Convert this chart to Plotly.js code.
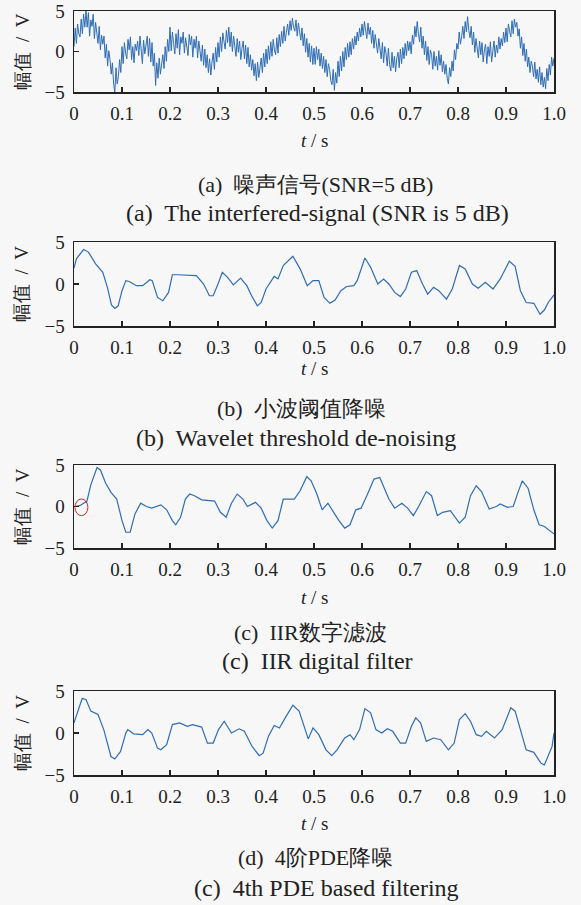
<!DOCTYPE html>
<html><head><meta charset="utf-8">
<script src="https://cdn.plot.ly/plotly-3.0.1.min.js"></script>
<style>body{margin:0;background:#f7f7f7}#chart{width:581px;height:905px}</style>
</head><body><div id="chart"></div>
<script>
// ---- data ----
const noisyDt = 0.0025;
const noisyV = [
0.6,2.9,1.0,3.4,2.2,1.8,4.0,2.2,4.6,3.0,5.0,3.0,4.8,1.9,3.9,3.1,4.6,1.6,3.6,2.4,1.0,3.1,0.2,2.0,0.9,1.9,-0.8,0.9,-1.8,0.1,-1.0,-2.8,-1.4,-3.9,-5.2,-2.0,-4.0,-3.1,-1.0,-2.6,
0.6,-1.5,1.1,-0.2,-0.9,1.5,0.2,1.8,-1.0,0.6,-1.4,0.9,0.1,1.3,-0.5,1.9,0.4,-1.5,1.4,-0.3,0.8,1.9,-0.6,1.6,-1.3,1.1,-1.8,-0.2,-4.2,-1.4,-3.3,-0.8,-2.8,-1.6,-0.4,-2.1,0.6,-1.2,1.5,0.0,
3.0,0.1,2.4,1.0,-0.3,2.2,0.4,2.7,-0.4,1.8,1.0,2.4,-0.2,1.7,0.3,-0.5,2.1,0.8,1.9,-0.7,1.5,0.4,1.9,-0.8,1.3,0.2,-1.2,0.8,-1.7,0.3,-2.0,-0.4,-2.6,-0.9,-2.9,-1.3,-0.2,-2.2,0.5,-1.3,
1.1,-0.7,1.8,0.0,2.3,1.2,0.3,2.6,1.1,3.0,0.6,2.4,0.0,1.9,0.5,-0.6,1.6,-0.1,1.3,-1.0,0.4,1.3,-0.9,0.8,-1.5,0.5,-1.9,-0.4,-2.3,-1.0,-3.0,-1.5,-3.6,-1.3,-3.2,-2.2,-0.8,-2.6,-0.2,-1.9,
0.3,-1.5,0.7,-1.0,1.2,-0.6,1.5,0.2,-0.4,1.7,-0.2,2.1,0.6,2.5,1.0,3.1,1.3,2.4,3.4,2.0,3.8,2.6,4.1,3.0,2.5,3.9,1.9,3.5,2.3,1.4,2.9,0.7,2.2,-0.1,1.6,-0.7,1.0,-1.3,0.7,-1.6,
0.4,-1.6,0.6,-1.0,0.3,-1.8,-0.2,-2.1,-0.6,-2.6,-1.0,-3.1,-1.5,-2.2,-3.6,-4.1,-2.2,-4.8,-2.6,-3.9,-1.2,-3.1,-0.6,-2.4,0.0,-1.9,0.5,-1.0,1.0,-0.7,1.2,-0.4,1.6,0.3,1.9,0.8,2.4,1.3,2.9,1.8,
3.4,2.0,3.7,2.3,1.6,3.5,2.1,3.0,1.0,2.6,0.4,2.1,0.8,-0.2,1.6,0.1,-0.9,1.1,-1.4,0.6,-0.2,-1.8,0.4,-1.6,-2.4,-0.1,-2.0,-0.6,-2.5,-0.8,-0.1,-2.0,0.3,-1.5,0.5,-0.9,1.0,-0.5,1.3,0.1,
1.2,-0.3,2.0,0.9,3.1,1.8,3.7,2.2,1.2,3.0,0.4,1.9,-0.4,1.3,-1.1,0.6,-1.6,0.2,-0.4,-2.2,0.0,-1.8,-0.6,-2.3,0.1,-1.7,-0.4,-2.5,-1.2,-2.8,-1.6,-3.3,-4.0,-2.0,-3.1,-1.2,-2.4,0.2,-1.0,1.0,
0.3,2.4,0.9,1.8,3.1,1.6,3.7,2.4,4.3,2.6,1.7,3.1,0.8,2.4,-0.1,1.6,0.4,-0.8,1.3,-0.4,1.1,-1.3,0.2,0.9,-1.5,0.6,-0.6,1.2,-1.3,0.4,1.3,-0.7,0.8,-0.2,1.8,0.3,1.6,0.7,2.4,1.1,
2.9,1.2,3.4,2.5,1.8,3.8,2.2,4.0,3.0,3.6,1.9,2.8,0.4,1.8,-0.5,1.0,-1.2,0.3,-1.9,-0.7,-2.6,-1.2,-1.8,-3.1,-1.3,-3.4,-2.2,-3.8,-1.9,-4.1,-2.6,-4.4,-3.2,-4.6,-2.1,-3.6,-1.6,-2.9,-0.7,-1.8,-0.8
];
const waveletT = [0,0.005,0.02,0.03,0.045,0.06,0.07,0.078,0.085,0.092,0.1,0.108,0.115,0.13,0.143,0.158,0.163,0.174,0.185,0.197,0.205,0.216,0.255,0.27,0.282,0.29,0.3,0.309,0.32,0.332,0.347,0.36,0.37,0.382,0.39,0.4,0.417,0.425,0.436,0.456,0.471,0.486,0.498,0.51,0.521,0.533,0.544,0.556,0.568,0.583,0.59,0.606,0.618,0.633,0.645,0.656,0.668,0.68,0.691,0.703,0.714,0.726,0.737,0.749,0.76,0.776,0.788,0.803,0.815,0.83,0.842,0.857,0.873,0.888,0.907,0.919,0.93,0.942,0.958,0.971,0.98,0.988,1.0];
const waveletV = [1.9,3.0,4.1,3.8,2.4,1.4,-0.5,-2.5,-2.9,-2.6,-0.8,0.4,0.3,-0.2,-0.2,0.5,0.4,-1.6,-2.0,-1.0,1.1,1.1,1.0,0.0,-1.4,-1.4,0.0,1.4,0.8,-0.1,0.7,-0.2,-1.4,-2.6,-2.2,-0.6,0.9,0.6,2.2,3.3,1.8,-0.2,0.4,0.4,-1.6,-2.3,-1.9,-0.8,-0.3,-0.2,0.4,3.1,2.0,0.0,0.6,0.0,-1.0,-1.5,-0.6,1.4,1.6,0.0,-1.2,-0.4,-0.8,-1.8,-0.6,2.2,1.8,0.0,-0.5,0.2,-0.6,0.6,2.7,2.1,-0.8,-2.2,-2.3,-3.6,-3.1,-2.2,-1.3];
const iirT = [0,0.012,0.02,0.027,0.035,0.048,0.055,0.066,0.077,0.089,0.1,0.108,0.117,0.127,0.139,0.151,0.162,0.181,0.193,0.205,0.212,0.222,0.232,0.241,0.251,0.266,0.293,0.305,0.317,0.328,0.34,0.352,0.361,0.378,0.39,0.402,0.413,0.425,0.436,0.448,0.459,0.471,0.485,0.494,0.506,0.517,0.529,0.541,0.552,0.564,0.575,0.587,0.598,0.61,0.625,0.637,0.645,0.656,0.668,0.683,0.695,0.707,0.718,0.734,0.745,0.757,0.768,0.784,0.803,0.815,0.826,0.838,0.849,0.865,0.88,0.888,0.903,0.915,0.925,0.934,0.946,0.958,0.969,0.98,1.0];
const iirV = [0.0,0.1,0.4,0.65,2.6,4.7,4.4,2.8,1.7,0.9,-1.7,-3.1,-3.1,-0.9,0.4,0.0,-0.2,0.2,-0.4,-1.7,-2.2,-1.3,0.9,1.5,1.3,0.8,0.65,-0.7,-1.3,0.4,1.5,0.9,0.0,0.5,-0.2,-1.7,-2.6,-1.7,0.9,0.9,0.9,1.9,3.6,3.1,1.5,-0.4,0.4,-0.7,-1.7,-2.6,-2.2,-0.4,-0.2,1.3,3.3,3.5,2.4,0.9,-0.2,0.4,-0.2,-1.1,0.0,1.8,1.3,-1.1,-0.7,-0.5,-2.0,-1.3,1.3,2.5,1.8,-0.3,0.0,0.3,-0.1,0.0,1.7,3.1,2.2,-0.4,-2.2,-2.4,-3.3];
const pdeT = [0,0.008,0.017,0.025,0.035,0.05,0.062,0.077,0.085,0.097,0.108,0.112,0.124,0.143,0.154,0.162,0.174,0.181,0.193,0.205,0.22,0.236,0.247,0.266,0.278,0.29,0.301,0.313,0.328,0.344,0.355,0.371,0.386,0.394,0.405,0.417,0.428,0.44,0.456,0.469,0.48,0.488,0.498,0.51,0.525,0.537,0.548,0.564,0.575,0.583,0.595,0.606,0.618,0.629,0.641,0.653,0.664,0.68,0.691,0.703,0.712,0.722,0.734,0.749,0.764,0.78,0.792,0.803,0.815,0.826,0.838,0.849,0.859,0.876,0.892,0.91,0.919,0.93,0.942,0.958,0.973,0.98,0.988,0.996,1.0];
const pdeV = [1.2,2.6,4.1,4.0,2.6,2.2,0.4,-2.8,-3.1,-2.2,0.0,0.4,-0.1,-0.2,0.4,0.0,-1.8,-2.0,-1.4,1.0,1.2,0.8,1.0,0.7,-1.2,-1.2,0.4,1.4,0.0,0.5,0.2,-1.6,-2.7,-2.4,-0.4,0.9,0.6,1.8,3.3,2.6,0.8,-0.7,0.6,-0.2,-2.0,-2.7,-2.0,-0.6,-0.2,-0.8,0.4,2.9,2.4,0.4,0.0,0.5,0.2,-1.2,-1.2,0.8,1.8,1.2,-1.0,-0.6,-0.8,-2.0,-1.2,1.6,2.3,1.4,-0.2,-0.4,0.2,-0.6,0.4,3.0,2.6,0.4,-2.0,-2.3,-3.6,-3.8,-2.8,-1.6,0.0];
const xTickVals = [0,0.1,0.2,0.3,0.4,0.5,0.6,0.7,0.8,0.9,1.0];
const xTickText = ['0','0.1','0.2','0.3','0.4','0.5','0.6','0.7','0.8','0.9','1.0'];
const yTickVals = [-5,0,5];
const yTickText = ['\u22125','0','5'];
const yTitle = '幅值\u00a0 /\u00a0 V';
const xTitle = '<i>t</i> / s';
const captionsCN = ['(a)  噪声信号(SNR=5 dB)','(b)  小波阈值降噪','(c)  IIR数字滤波','(d)  4阶PDE降噪'];
const captionsEN = ['(a)  The interfered-signal (SNR is 5 dB)','(b)  Wavelet threshold de-noising','(c)  IIR digital filter','(c)  4th PDE based filtering'];

// ---- layout geometry (pixels) ----
const W = 581, H = 905;
const left = 74, right = 554;
const panels = [[11,92],[242,326],[465,548],[691,775]];
const xTitleY = [140,368,597,823];
const capY1 = [184,408,632,857];
const capY2 = [213,438,661,888];
const capX1 = [315,301,310,315];
const capX2 = [317,296,317,326];
const FONT = 'Liberation Serif';
const lineColor = '#2f6db5';

const traces = [
  {x0:0, dx:noisyDt, y:noisyV, xaxis:'x', yaxis:'y'},
  {x:waveletT, y:waveletV, xaxis:'x2', yaxis:'y2'},
  {x:iirT, y:iirV, xaxis:'x3', yaxis:'y3'},
  {x:pdeT, y:pdeV, xaxis:'x4', yaxis:'y4'}
].map((t,i)=>Object.assign(t,{type:'scatter',mode:'lines',line:{color:lineColor,width:i===0?1.0:1.2},hoverinfo:'skip',showlegend:false}));

const layout = {
  width:W, height:H, margin:{l:0,r:0,t:0,b:0},
  paper_bgcolor:'#f7f7f7', plot_bgcolor:'#f7f7f7',
  font:{family:FONT, size:18, color:'#222'},
  showlegend:false, annotations:[], shapes:[]
};
panels.forEach((p,i)=>{
  const sx = i===0?'':String(i+1);
  layout['xaxis'+sx] = {
    domain:[left/W, right/W], range:[0,1], anchor:'y'+sx,
    tickvals:xTickVals, ticktext:xTickText, ticks:'inside', ticklen:5, tickwidth:1.2, tickcolor:'#222',
    showline:true, linecolor:'#222', linewidth:1.5, mirror:true, showgrid:false, zeroline:false,
    tickfont:{family:FONT,size:19,color:'#222'}, ticklabelstandoff:4, fixedrange:true, automargin:false
  };
  layout['yaxis'+sx] = {
    domain:[1-p[1]/H, 1-p[0]/H], range:[-5,5], anchor:'x'+sx,
    tickvals:yTickVals, ticktext:yTickText, ticks:'inside', ticklen:5, tickwidth:1.2, tickcolor:'#222',
    showline:true, linecolor:'#222', linewidth:1.5, mirror:true, showgrid:false, zeroline:false,
    tickfont:{family:FONT,size:19,color:'#222'}, ticklabelstandoff:4, fixedrange:true, automargin:false
  };
  layout.annotations.push(
    {xref:'paper',yref:'paper',x:22/W,y:1-((p[0]+p[1])/2)/H,text:yTitle,textangle:-90,showarrow:false,font:{family:FONT,size:19,color:'#222'},xanchor:'center',yanchor:'middle'},
    {xref:'paper',yref:'paper',x:(left+right)/2/W,y:1-xTitleY[i]/H,text:xTitle,showarrow:false,font:{family:FONT,size:19,color:'#222'},xanchor:'center',yanchor:'middle'},
    {xref:'paper',yref:'paper',x:capX1[i]/W,y:1-capY1[i]/H,text:captionsCN[i],showarrow:false,font:{family:FONT,size:22,color:'#222'},xanchor:'center',yanchor:'middle'},
    {xref:'paper',yref:'paper',x:capX2[i]/W,y:1-capY2[i]/H,text:captionsEN[i],showarrow:false,font:{family:FONT,size:24,color:'#222'},xanchor:'center',yanchor:'middle'}
  );
});
layout.shapes.push({type:'circle',xref:'x3',yref:'y3',x0:0.002,x1:0.029,y0:-1.1,y1:0.9,line:{color:'#e02020',width:1}});

Plotly.newPlot('chart', traces, layout, {staticPlot:true, displayModeBar:false});
</script></body></html>
